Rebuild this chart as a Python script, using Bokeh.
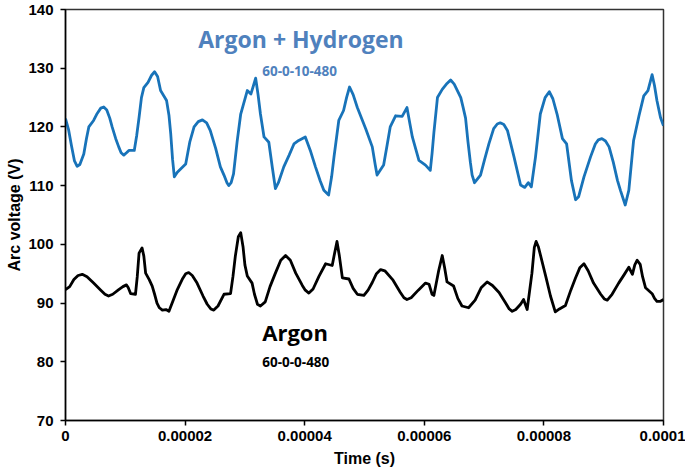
from bokeh.plotting import figure
from bokeh.models import FixedTicker, Label, Range1d
from bokeh.embed import file_html
from bokeh.resources import INLINE

# Time in microseconds (converted to seconds below), voltage in V
h2_time_us = [0, 0.5, 1.0, 1.5, 1.95, 2.4, 3.06, 3.5, 3.9, 4.7, 5.3, 5.9, 6.4, 6.9, 7.4, 7.8, 8.4,
              8.9, 9.3, 9.75, 10.2, 10.6, 11.5, 11.9, 12.3, 12.7, 13.1, 13.8, 14.4, 14.9, 15.4,
              15.9, 16.5, 16.9, 17.3, 17.6, 17.9, 18.2, 18.7, 20.1, 20.8, 21.5, 22.2, 22.9, 23.6,
              24.2, 25.1, 25.9, 26.5, 27.0, 27.3, 27.7, 28.1, 28.7, 29.3, 30.4, 31.0, 31.8, 32.2,
              32.6, 33.2, 34.0, 34.6, 35.1, 35.6, 36.5, 37.4, 38.2, 39.0, 40.1, 41.0, 41.8, 42.6,
              43.2, 44.0, 44.5, 44.9, 45.7, 46.5, 47.0, 47.5, 48.1, 48.8, 50.2, 51.3, 51.8, 52.1,
              53.2, 53.8, 54.3, 55.2, 56.3, 57.1, 57.6, 58.0, 59.1, 60.2, 61.0, 61.3, 61.6, 62.2,
              63.0, 63.8, 64.4, 65.0, 66.1, 66.5, 66.9, 67.3, 67.7, 68.0, 68.4, 69.4, 70.1, 70.8,
              71.6, 72.2, 72.7, 73.3, 73.9, 75.0, 76.1, 76.8, 77.4, 77.9, 78.6, 79.4, 80.2, 80.9,
              81.5, 82.2, 83.1, 83.8, 84.6, 85.3, 85.8, 86.7, 87.8, 88.6, 89.1, 89.7, 90.3, 90.9,
              91.6, 92.3, 92.8, 93.6, 94.2, 95.0, 95.9, 96.7, 97.4, 98.1, 98.5, 98.9, 99.5, 100]
h2_voltage = [121.4, 119.6, 116.8, 114.2, 113.3, 113.6, 115.4, 118.0, 120.0, 121.1, 122.3, 123.2,
              123.4, 122.9, 121.5, 120.0, 118.0, 116.6, 115.6, 115.2, 115.6, 116.0, 116.0, 118.5,
              121.6, 125.0, 126.7, 127.6, 128.8, 129.4, 128.6, 126.2, 125.2, 124.5, 122.0, 118.8,
              114.5, 111.5, 112.3, 113.7, 117.5, 120.0, 120.9, 121.2, 120.7, 119.4, 116.4, 113.2,
              111.8, 110.5, 110.0, 110.5, 112.0, 117.5, 122.2, 126.2, 125.6, 128.3, 125.5, 122.2,
              118.3, 117.4, 113.0, 109.5, 110.5, 113.2, 115.2, 117.1, 117.7, 118.3, 115.8, 113.2,
              110.8, 109.2, 108.4, 111.5, 114.9, 121.1, 122.8, 125.0, 126.8, 125.5, 123.3, 119.7,
              116.6, 113.5, 111.8, 113.5, 117.0, 120.0, 121.9, 121.8, 123.3, 120.5, 118.3, 114.3,
              113.5, 112.6, 115.5, 119.0, 125.0, 126.4, 127.4, 128.0, 127.3, 125.0, 123.3, 121.5,
              117.5, 114.0, 111.8, 110.5, 111.8, 114.5, 117.1, 119.7, 120.5, 120.7, 120.4, 119.4,
              114.9, 110.1, 109.7, 110.5, 109.8, 114.9, 122.2, 125.0, 126.0, 124.8, 122.2, 118.0,
              117.1, 110.9, 107.6, 108.1, 111.5, 114.9, 117.1, 117.8, 118.0, 117.6, 116.6, 114.0,
              110.9, 109.2, 106.7, 109.2, 117.7, 121.9, 125.3, 126.2, 128.9, 127.0, 124.5, 121.6,
              120.2]

ar_time_us = [0, 0.7, 1.4, 2.1, 2.8, 3.6, 4.7, 5.9, 6.6, 7.2, 7.9, 8.9, 9.6, 10.2, 10.5, 10.9,
              11.7, 12.0, 12.3, 12.8, 13.1, 13.4, 14.0, 14.5, 14.9, 15.3, 15.7, 16.2, 16.8, 17.3,
              17.9, 18.7, 19.6, 20.1, 20.6, 21.2, 22.0, 23.0, 23.7, 24.3, 24.8, 25.5, 26.5, 27.6,
              28.0, 28.4, 28.9, 29.3, 29.7, 30.0, 30.4, 31.2, 31.6, 32.1, 32.6, 33.4, 34.2, 35.1,
              36.0, 36.8, 37.6, 38.5, 39.6, 40.1, 40.7, 41.4, 42.4, 43.5, 44.6, 45.0, 45.4, 45.8,
              46.3, 47.4, 48.1, 48.8, 49.9, 50.6, 51.3, 52.0, 52.7, 53.4, 54.7, 56.0, 56.6, 57.1,
              57.8, 59.0, 60.2, 60.8, 61.3, 61.6, 62.4, 63.0, 63.4, 63.8, 64.9, 65.6, 66.3, 67.4,
              68.5, 69.5, 70.5, 71.4, 72.5, 73.6, 74.2, 74.7, 75.3, 76.1, 76.6, 77.2, 77.6, 78.0,
              78.4, 78.7, 79.1, 80.3, 81.1, 81.9, 82.6, 83.6, 84.5, 85.3, 86.0, 86.7, 87.4, 88.3,
              89.5, 90.1, 90.6, 91.4, 92.5, 93.4, 94.2, 94.8, 95.2, 95.6, 96.1, 96.5, 97.0, 98.1,
              98.5, 98.9, 99.5, 100]
ar_voltage = [92.3, 92.8, 94.0, 94.7, 94.9, 94.5, 93.4, 92.2, 91.5, 91.2, 91.5, 92.3, 92.8, 93.1,
              92.6, 91.6, 91.5, 94.5, 98.5, 99.4, 98.0, 95.1, 94.0, 92.9, 91.5, 90.0, 89.2, 88.8,
              88.9, 88.6, 90.2, 92.3, 94.2, 95.0, 95.2, 94.7, 93.4, 91.2, 89.8, 89.0, 88.8, 89.5,
              91.5, 91.6, 94.5, 98.0, 101.3, 102.0, 99.5, 96.5, 94.6, 93.4, 91.5, 89.8, 89.5, 90.2,
              92.8, 95.1, 97.3, 98.1, 97.3, 95.1, 93.0, 92.2, 91.7, 92.4, 94.6, 96.7, 96.4, 98.5,
              100.5, 98.0, 94.3, 94.1, 92.5, 91.5, 91.3, 92.2, 93.5, 95.0, 95.7, 95.5, 94.0, 91.8,
              90.9, 90.6, 90.9, 92.2, 93.4, 93.2, 91.5, 91.3, 95.5, 98.1, 96.0, 93.6, 92.9, 90.8,
              89.5, 89.2, 90.5, 92.6, 93.6, 93.0, 91.8, 90.0, 89.0, 88.6, 88.9, 89.8, 90.6, 88.9,
              92.0, 95.1, 99.5, 100.5, 99.5, 94.6, 91.2, 88.5, 89.0, 89.6, 92.2, 94.3, 96.0, 96.7,
              95.5, 93.4, 91.5, 90.7, 90.5, 91.5, 93.4, 94.8, 96.1, 94.9, 96.5, 97.3, 96.6, 94.5,
              92.6, 91.6, 90.8, 90.3, 90.3, 90.6]

x_ticks = [0, 0.00002, 0.00004, 0.00006, 0.00008, 0.0001]
x_tick_labels = ["0", "0.00002", "0.00004", "0.00006", "0.00008", "0.0001"]
y_ticks = [70, 80, 90, 100, 110, 120, 130, 140]

h2_time = [t * 1e-6 for t in h2_time_us]
ar_time = [t * 1e-6 for t in ar_time_us]

FONT = "Liberation Sans"

p = figure(width=685, height=473, output_backend="svg", toolbar_location=None,
           x_range=Range1d(0, 0.0001), y_range=Range1d(70, 140),
           min_border_left=65, min_border_right=22, min_border_top=9, min_border_bottom=53)
p.grid.visible = False
p.background_fill_color = "white"
p.border_fill_color = "white"
p.outline_line_color = "#333333"
p.outline_line_width = 1.5

p.line(h2_time, h2_voltage, line_color="#1873b9", line_width=2.8, line_join="round")
p.line(ar_time, ar_voltage, line_color="#000000", line_width=2.8, line_join="round")

p.xaxis.ticker = FixedTicker(ticks=x_ticks)
p.xaxis.major_label_overrides = {t: l for t, l in zip(x_ticks, x_tick_labels)}
p.yaxis.ticker = FixedTicker(ticks=y_ticks)

for ax in (p.xaxis[0], p.yaxis[0]):
    ax.axis_line_color = "black"
    ax.axis_line_width = 1.5
    ax.major_tick_line_color = "black"
    ax.major_tick_line_width = 1.5
    ax.major_tick_in = 0
    ax.major_tick_out = 5
    ax.minor_tick_line_color = None
    ax.major_label_text_font = FONT
    ax.major_label_text_font_style = "bold"
    ax.major_label_text_font_size = "15px"
    ax.major_label_text_color = "black"
    ax.axis_label_text_font = FONT
    ax.axis_label_text_font_style = "bold"
    ax.axis_label_text_font_size = "16px"
    ax.axis_label_text_color = "black"

p.xaxis.axis_label = "Time (s)"
p.yaxis.axis_label = "Arc voltage (V)"
p.xaxis.major_label_standoff = 5
p.xaxis.axis_label_standoff = 6
p.yaxis.major_label_standoff = 7
p.yaxis.axis_label_standoff = 2

ann_font = "Open Sans"
p.add_layout(Label(x=22.2e-6, y=135.0, text="Argon + Hydrogen", text_font=ann_font,
                   text_font_style="bold", text_font_size="23px", text_color="#4f81bd",
                   text_baseline="middle", text_align="left"))
p.add_layout(Label(x=32.9e-6, y=129.6, text="60-0-10-480", text_font=ann_font,
                   text_font_style="bold", text_font_size="13.5px", text_color="#4f81bd",
                   text_baseline="middle", text_align="left"))
p.add_layout(Label(x=32.9e-6, y=85.1, text="Argon", text_font=ann_font,
                   text_font_style="bold", text_font_size="22px", text_color="black",
                   text_baseline="middle", text_align="left"))
p.add_layout(Label(x=32.9e-6, y=80.0, text="60-0-0-480", text_font=ann_font,
                   text_font_style="bold", text_font_size="13.5px", text_color="black",
                   text_baseline="middle", text_align="left"))

open("out.html", "w").write(file_html(p, INLINE))
